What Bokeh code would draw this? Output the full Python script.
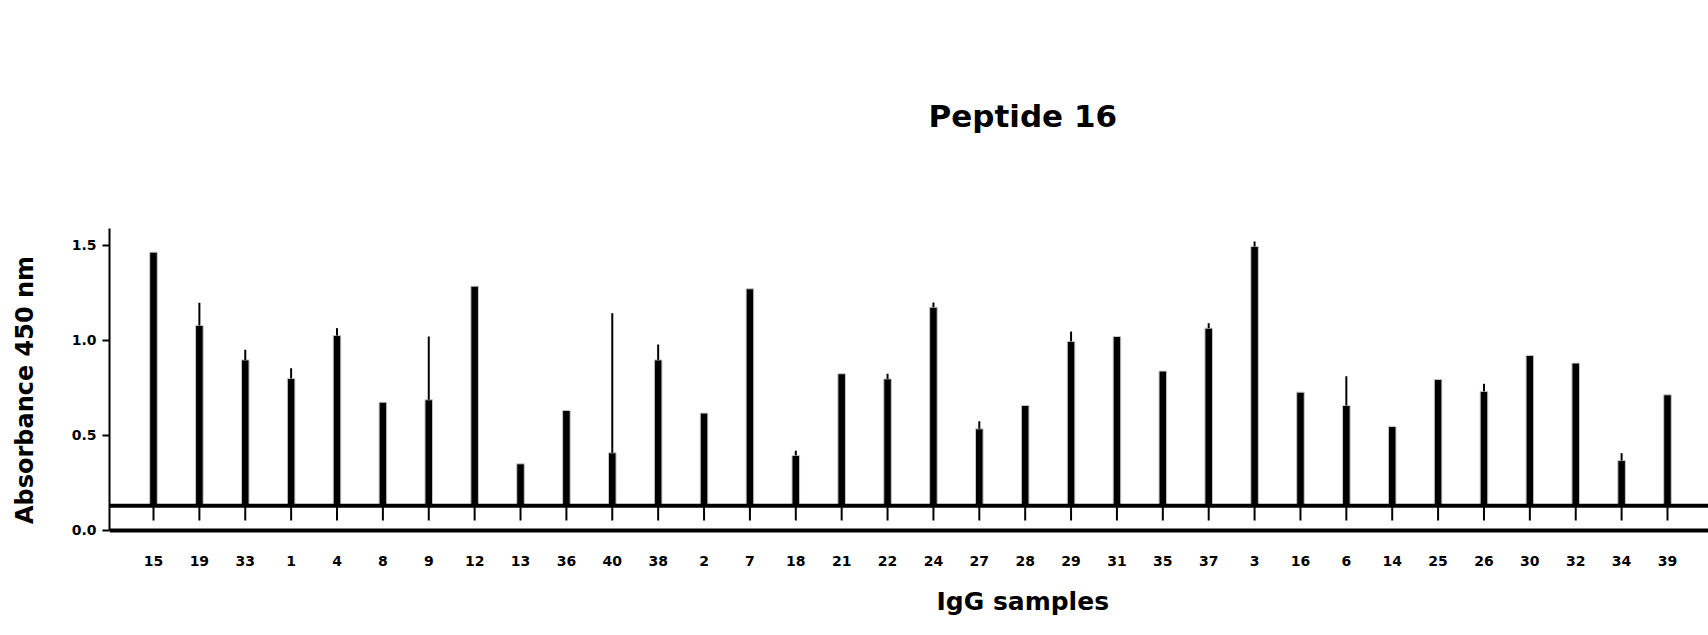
from bokeh.plotting import figure
from bokeh.models import FixedTicker, Span, Title, Range1d, NumeralTickFormatter
from bokeh.embed import file_html
from bokeh.resources import INLINE

# ---- data ----
samples = ["15", "19", "33", "1", "4", "8", "9", "12", "13", "36", "40", "38", "2", "7",
           "18", "21", "22", "24", "27", "28", "29", "31", "35", "37", "3", "16", "6",
           "14", "25", "26", "30", "32", "34", "39"]
means = [1.465, 1.079, 0.898, 0.800, 1.026, 0.675, 0.688, 1.286, 0.351, 0.632, 0.409,
         0.898, 0.618, 1.272, 0.395, 0.825, 0.798, 1.175, 0.535, 0.658, 0.995, 1.021,
         0.839, 1.065, 1.495, 0.728, 0.658, 0.547, 0.795, 0.732, 0.921, 0.881, 0.368, 0.714]
errors = [0.0, 0.12, 0.053, 0.054, 0.039, 0.0, 0.333, 0.0, 0.0, 0.0, 0.735, 0.081, 0.0,
          0.0, 0.025, 0.0, 0.027, 0.025, 0.04, 0.0, 0.052, 0.0, 0.0, 0.026, 0.026, 0.0,
          0.154, 0.0, 0.0, 0.04, 0.0, 0.0, 0.039, 0.0]
cutoff = 0.13
y_ticks = [0.0, 0.5, 1.0, 1.5]
title_text = "Peptide 16"
x_label = "IgG samples"
y_label = "Absorbance 450 nm"

idx = list(range(len(samples)))
upper = [m + e for m, e in zip(means, errors)]

FONT = "DejaVu Sans"

p = figure(width=1708, height=635, output_backend="svg", toolbar_location=None,
           title=None, x_range=Range1d(-0.959, 33.894), y_range=Range1d(-0.1211, 1.6),
           min_border_left=109, min_border_right=0, min_border_top=226, min_border_bottom=82)
p.outline_line_color = None
p.xgrid.grid_line_color = None
p.ygrid.grid_line_color = None
p.background_fill_color = "white"
p.border_fill_color = "white"

# lines
p.add_layout(Span(location=0, dimension="width", line_color="black", line_width=4))
p.add_layout(Span(location=cutoff, dimension="width", line_color="black", line_width=4))

# x tick marks below the cutoff line
p.segment(x0=idx, y0=[cutoff] * len(idx), x1=idx, y1=[cutoff - 0.077] * len(idx),
          line_color="black", line_width=2)

# bars
p.vbar(x=idx, bottom=cutoff, top=means, width=0.165, fill_color="black",
       line_color="#c8c8c8", line_width=1)
# error bars (upper only)
p.segment(x0=idx, y0=means, x1=idx, y1=upper, line_color="black", line_width=2)

# y axis
ya = p.yaxis[0]
ya.bounds = (0, 1.59)
ya.ticker = FixedTicker(ticks=y_ticks)
ya.formatter = NumeralTickFormatter(format="0.0")
ya.axis_line_width = 2
ya.major_tick_line_width = 2
ya.major_tick_out = 7
ya.major_tick_in = 0
ya.minor_tick_line_color = None
ya.major_label_standoff = 6
ya.major_label_text_font = FONT
ya.major_label_text_font_style = "bold"
ya.major_label_text_font_size = "14px"
ya.major_label_text_color = "black"
ya.axis_label = y_label
ya.axis_label_text_font = FONT
ya.axis_label_text_font_style = "bold"
ya.axis_label_text_font_size = "24px"
ya.axis_label_text_color = "black"
ya.axis_label_standoff = 30

# x axis (labels only)
xa = p.xaxis[0]
xa.ticker = FixedTicker(ticks=idx)
xa.major_label_overrides = {i: s for i, s in zip(idx, samples)}
xa.axis_line_color = None
xa.major_tick_line_color = None
xa.minor_tick_line_color = None
xa.major_tick_out = 0
xa.major_label_standoff = 2
xa.major_label_text_font = FONT
xa.major_label_text_font_style = "bold"
xa.major_label_text_font_size = "14px"
xa.major_label_text_color = "black"

# title and x label as titles placed around the frame
p.add_layout(Title(text=title_text, align="left", offset=819, standoff=185,
                   text_font=FONT, text_font_style="bold", text_font_size="31px",
                   text_color="black"), "above")
p.add_layout(Title(text=x_label, align="left", offset=827, standoff=33,
                   text_font=FONT, text_font_style="bold", text_font_size="25px",
                   text_color="black"), "below")

open("out.html", "w").write(file_html(p, INLINE))
